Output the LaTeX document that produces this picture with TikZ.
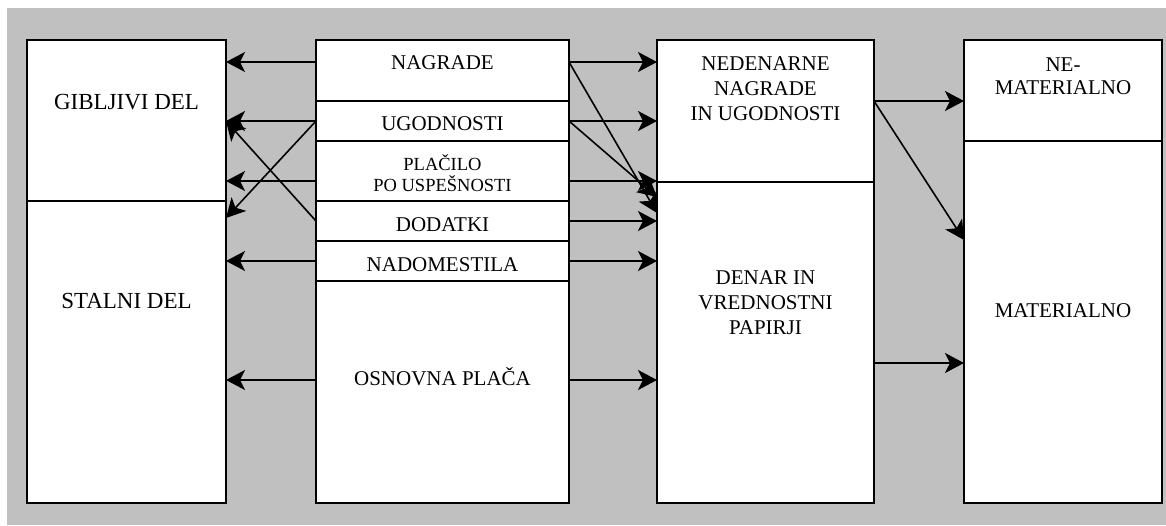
\documentclass[tikz,border=0pt]{standalone}
\usepackage{fontspec}
\setmainfont{Liberation Serif}
\usetikzlibrary{arrows.meta}
\definecolor{panelgray}{HTML}{C0C0C0}

\begin{document}
\begin{tikzpicture}[x=1pt, y=-1pt,
    box/.style={draw, fill=white, line width=2pt, anchor=north west, inner sep=0pt, outer sep=0pt},
    txt/.style={inner sep=0pt, align=center, font=\fontsize{21}{25}\selectfont},
    arr/.style={-{Stealth[length=19pt, width=20pt, inset=5pt]}, line width=1.6pt}]

    % Background panel
    \useasboundingbox (0,0) rectangle (1166,525);
    \fill[panelgray] (7,8) rectangle (1166,525);

    % Left column
    \node[box, minimum width=199pt, minimum height=161pt] (gib) at (27,40) {};
    \node[box, minimum width=199pt, minimum height=302pt] (stal) at (27,201) {};

    % Middle column
    \node[box, minimum width=253pt, minimum height=61pt] (nag) at (316,40) {};
    \node[box, minimum width=253pt, minimum height=40pt] (ugo) at (316,101) {};
    \node[box, minimum width=253pt, minimum height=60pt] (pla) at (316,141) {};
    \node[box, minimum width=253pt, minimum height=40pt] (dod) at (316,201) {};
    \node[box, minimum width=253pt, minimum height=40pt] (nad) at (316,241) {};
    \node[box, minimum width=253pt, minimum height=222pt] (osn) at (316,281) {};

    % Third column
    \node[box, minimum width=217pt, minimum height=142pt] (ned) at (657,40) {};
    \node[box, minimum width=217pt, minimum height=321pt] (den) at (657,182) {};

    % Right column
    \node[box, minimum width=198pt, minimum height=101pt] (nemat) at (964,40) {};
    \node[box, minimum width=198pt, minimum height=362pt] (mat) at (964,141) {};

    % Row heights for the arrows
    \foreach \y in {62,101,121,181,197,213,218,221,240,261,363,380}
        \coordinate (y\y) at (0,\y);

    % Arrows to the left column
    \foreach \row/\src/\dst in {62/nag/gib, 121/ugo/gib, 181/pla/gib, 261/nad/stal, 380/osn/stal}
        \draw[arr] (y\row -| \src.west) -- (y\row -| \dst.east);
    \draw[arr] (y121 -| ugo.west) -- (y218 -| stal.east);
    \draw[arr] (y221 -| dod.west) -- (y121 -| gib.east);

    % Arrows to the third column
    \foreach \row/\src/\dst in {62/nag/ned, 121/ugo/ned, 181/pla/ned, 221/dod/den, 261/nad/den, 380/osn/den}
        \draw[arr] (y\row -| \src.east) -- (y\row -| \dst.west);
    \draw[arr] (y62 -| nag.east) -- (y213 -| den.west);
    \draw[arr] (y121 -| ugo.east) -- (y197 -| den.west);

    % Arrows to the right column
    \draw[arr] (y101 -| ned.east) -- (y101 -| nemat.west);
    \draw[arr] (y101 -| ned.east) -- (y240 -| mat.west);
    \draw[arr] (y363 -| den.east) -- (y363 -| mat.west);

    % Labels
    \node[txt, font=\fontsize{23}{27}\selectfont] (gibtxt) at (126.5,102.5) {GIBLJIVI DEL};
    \node[txt, font=\fontsize{23}{27}\selectfont] (staltxt) at (126.5,300.5) {STALNI DEL};
    \node[txt] (nagtxt) at (442.5,63) {NAGRADE};
    \node[txt] (ugotxt) at (442.5,124) {UGODNOSTI};
    \node[txt, font=\fontsize{18.5}{21.5}\selectfont] (platxt) at (442.5,173) {PLAČILO\\PO USPEŠNOSTI};
    \node[txt] (dodtxt) at (442.5,225) {DODATKI};
    \node[txt] (nadtxt) at (442.5,265) {NADOMESTILA};
    \node[txt] (osntxt) at (442.5,377) {OSNOVNA PLAČA};
    \node[txt] (nedtxt) at (765.5,89) {NEDENARNE\\NAGRADE\\IN UGODNOSTI};
    \node[txt] (dentxt) at (765.5,303) {DENAR IN\\VREDNOSTNI\\PAPIRJI};
    \node[txt, font=\fontsize{21}{23}\selectfont] (nemattxt) at (1063,76.5) {NE-\\MATERIALNO};
    \node[txt] (mattxt) at (1063,311) {MATERIALNO};
\end{tikzpicture}
\end{document}
